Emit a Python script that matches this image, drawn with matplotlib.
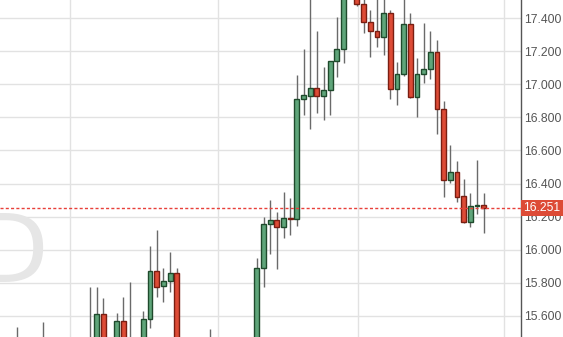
import matplotlib.pyplot as plt
from matplotlib.patches import Rectangle
import matplotlib.transforms as mtransforms

# daily candles, oldest first (values below 15.47 / above 17.51 are off screen)
opens = [15.30, 15.36, 15.33, 15.40, 15.34, 15.38, 15.35, 15.42, 15.36, 15.30,
         15.34, 15.40, 15.37, 15.43, 15.40, 15.610, 15.42, 15.38, 15.569, 15.43,
         15.45, 15.42, 15.579, 15.871, 15.779, 15.809, 15.857, 15.40, 15.35, 15.30,
         15.27, 15.31, 15.34, 15.30, 15.36, 15.41, 15.38, 15.42, 15.40, 15.888,
         16.153, 16.178, 16.135, 16.190, 16.184, 16.909, 16.931, 16.975, 16.931, 16.963,
         17.138, 17.211, 17.56, 17.60, 17.483, 17.374, 17.321, 17.283, 17.428, 16.969,
         17.062, 17.364, 16.921, 17.062, 17.090, 17.195, 16.848, 16.421, 16.468, 16.324,
         16.166, 16.262, 16.268]
highs = [15.42, 15.44, 15.53, 15.45, 15.43, 15.45, 15.563, 15.46, 15.44, 15.40,
         15.45, 15.46, 15.45, 15.776, 15.776, 15.710, 15.46, 15.619, 15.712, 15.802,
         15.46, 15.630, 16.022, 16.119, 15.889, 15.984, 15.891, 15.45, 15.42, 15.38,
         15.36, 15.519, 15.44, 15.40, 15.45, 15.46, 15.45, 15.46, 15.952, 16.196,
         16.302, 16.226, 16.347, 16.311, 17.056, 17.211, 17.62, 17.323, 17.106, 17.138,
         17.404, 17.62, 17.66, 17.64, 17.53, 17.448, 17.53, 17.55, 17.448, 17.136,
         17.55, 17.428, 17.157, 17.372, 17.323, 17.267, 16.900, 16.633, 16.538, 16.425,
         16.341, 16.542, 16.341]
lows = [15.22, 15.28, 15.27, 15.30, 15.25, 15.31, 15.30, 15.32, 15.26, 15.22,
        15.28, 15.33, 15.30, 15.36, 15.35, 15.38, 15.33, 15.34, 15.39, 15.37,
        15.36, 15.39, 15.525, 15.712, 15.686, 15.746, 15.36, 15.30, 15.26, 15.21,
        15.20, 15.25, 15.28, 15.22, 15.31, 15.33, 15.30, 15.35, 15.36, 15.773,
        15.974, 15.883, 16.073, 16.089, 16.145, 16.814, 16.727, 16.828, 16.784, 16.814,
        17.042, 17.126, 17.53, 17.474, 17.308, 17.163, 17.227, 17.175, 16.912, 16.876,
        17.050, 16.915, 16.800, 17.005, 17.030, 16.697, 16.317, 16.401, 16.290, 16.160,
        16.139, 16.216, 16.103]
closes = [15.36, 15.33, 15.40, 15.34, 15.38, 15.35, 15.42, 15.36, 15.30, 15.34,
          15.40, 15.37, 15.43, 15.40, 15.610, 15.42, 15.38, 15.569, 15.43, 15.45,
          15.42, 15.579, 15.871, 15.773, 15.809, 15.857, 15.40, 15.35, 15.30, 15.27,
          15.31, 15.34, 15.30, 15.36, 15.41, 15.38, 15.42, 15.40, 15.888, 16.153,
          16.178, 16.135, 16.192, 16.184, 16.909, 16.933, 16.975, 16.931, 16.963, 17.138,
          17.213, 17.56, 17.60, 17.485, 17.374, 17.321, 17.283, 17.428, 16.969, 17.062,
          17.364, 16.921, 17.062, 17.090, 17.195, 16.848, 16.421, 16.468, 16.320, 16.166,
          16.262, 16.270, 16.251]
y_ticks = [15.6, 15.8, 16.0, 16.2, 16.4, 16.6, 16.8, 17.0, 17.2, 17.4]
month_lines = [10.05, 32.15, 53.15, 75.0]
last_price = 16.251

up_face, up_edge = '#5fa57a', '#1f4a2c'
dn_face, dn_edge = '#dd4b36', '#7a1e12'

plt.rcParams['font.family'] = ['Liberation Sans', 'DejaVu Sans']

fig = plt.figure(figsize=(5.63, 3.37), dpi=100)
ax = fig.add_axes([0, 0, 521 / 563, 1])

for i in range(len(opens)):
    o, h, l, c = opens[i], highs[i], lows[i], closes[i]
    up = c >= o
    ax.vlines(i, l, h, color='#6a6a6a', lw=1, zorder=2)
    ax.bar(i, max(abs(c - o), 0.004), bottom=min(o, c), width=0.72,
           color=up_face if up else dn_face,
           edgecolor=up_edge if up else dn_edge, linewidth=1, zorder=3)

for x in month_lines:
    ax.axvline(x, color='#e2e2e2', lw=1, zorder=0)
for y in y_ticks:
    ax.axhline(y, color='#e2e2e2', lw=1, zorder=0)

# faint watermark letter on the left
ax.text(-4.2, 15.805, 'D', fontsize=68, color='#e6e6e6', ha='left', va='baseline',
        family='DejaVu Sans', zorder=0.5)

ax.axhline(last_price, color='#e8403a', lw=1, ls=(0, (2.2, 1.6)), zorder=4)

ax.set_xlim(-0.5, 77.6)
ax.set_ylim(15.4725, 17.5088)
ax.set_xticks([])
ax.yaxis.tick_right()
ax.set_yticks(y_ticks)
ax.set_yticklabels(['%.3f' % v for v in y_ticks])
ax.tick_params(axis='y', length=0, pad=2, labelsize=8.7, labelcolor='#555555')
for s in ['left', 'top', 'bottom']:
    ax.spines[s].set_visible(False)
ax.spines['right'].set_color('#555555')
ax.spines['right'].set_linewidth(1)

# price tag on the axis
trans = mtransforms.blended_transform_factory(ax.transAxes, ax.transData)
ax.add_patch(Rectangle((1.0, last_price - 0.0465), 42 / 521, 0.093, transform=trans,
                       facecolor='#dd4b36', edgecolor='none', clip_on=False, zorder=5))
ax.text(1.0 + 2 / 521, last_price, '%.3f' % last_price, transform=trans, ha='left',
        va='center', color='white', fontsize=8.7, clip_on=False, zorder=6)

plt.savefig('out.png', dpi=100)
